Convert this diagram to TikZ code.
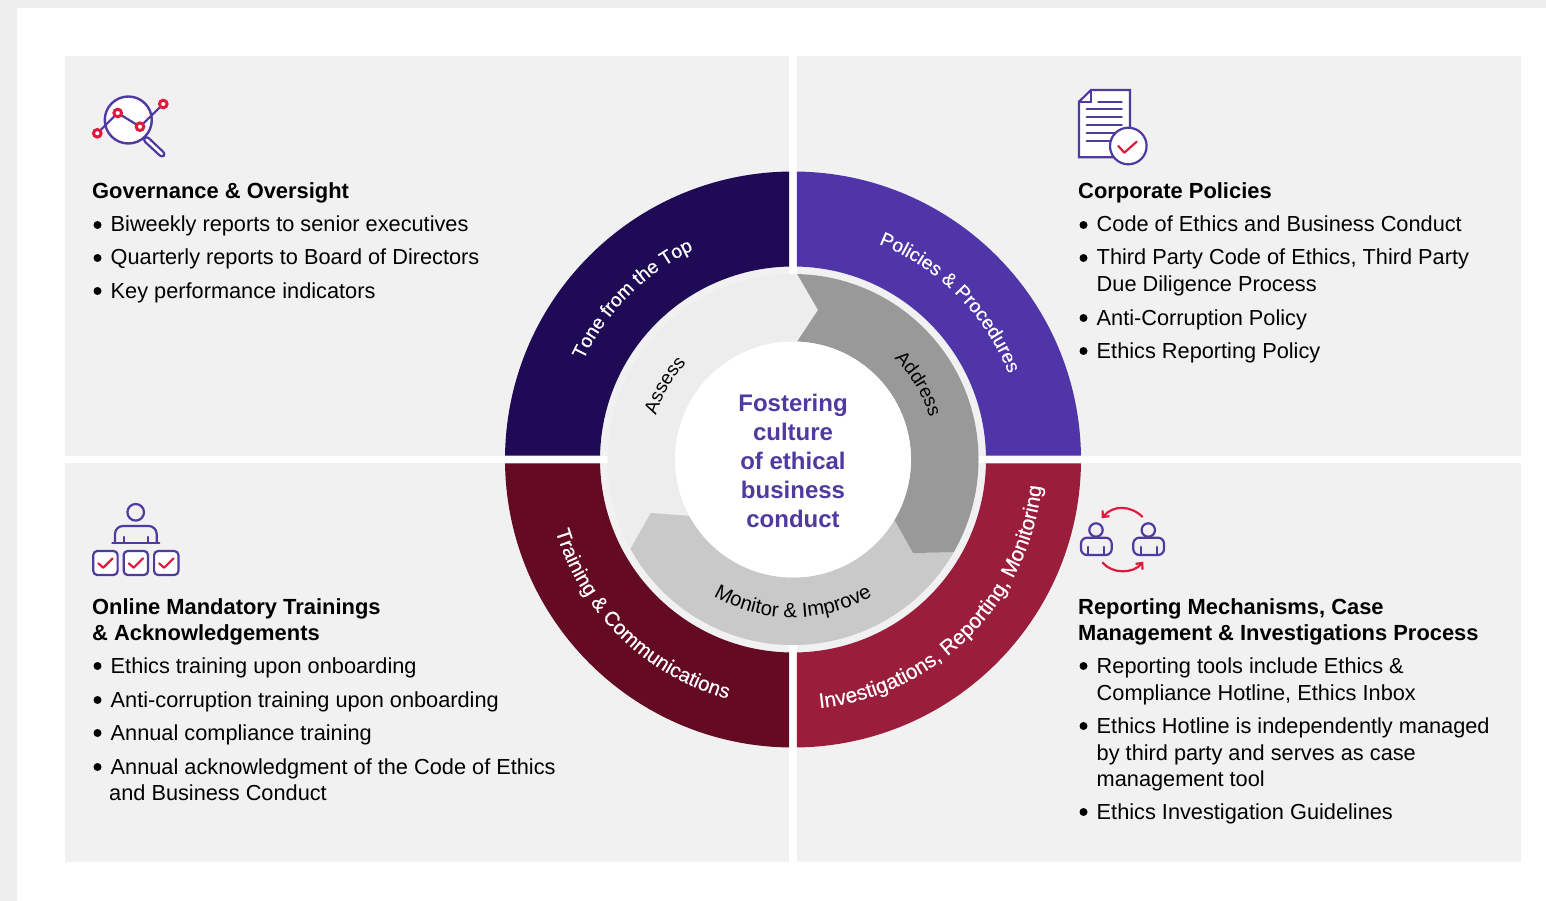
\documentclass[tikz,border=0pt]{standalone}
\usepackage{fontspec}
\setmainfont{Liberation Sans}
\usetikzlibrary{arrows.meta,decorations.text}

\definecolor{panelgray}{HTML}{F1F1F1}
\definecolor{edgegray}{HTML}{EDEDED}
\definecolor{tonefill}{HTML}{1F0A55}
\definecolor{policyfill}{HTML}{5035A8}
\definecolor{trainfill}{HTML}{640A22}
\definecolor{investfill}{HTML}{9B1D3C}
\definecolor{iconblue}{HTML}{4F3A9F}
\definecolor{iconred}{HTML}{E01A3C}
\definecolor{addressfill}{HTML}{999999}
\definecolor{monitorfill}{HTML}{C9C9C9}

\newcommand{\ringfont}[1]{\fontsize{#1}{#1}\selectfont\addfontfeature{FakeBold=0.35}\color{white}}
\newcommand{\coreringfont}[1]{\fontsize{#1}{#1}\selectfont\color{black}}
\newcommand{\itm}[4]{\node[dot] (#1b) at (#2+5.5,#3-7) {}; \node[bodytext] (#1) at (#2+18.5,#3) {#4};}

\begin{document}
\begin{tikzpicture}[
  x=1pt,y=-1pt,
  panel/.style={fill=panelgray},
  dot/.style={circle,fill=black,inner sep=0pt,minimum size=8pt},
  bodytext/.style={anchor=base west,inner sep=0pt,font=\fontsize{21.75}{22}\selectfont},
  headtext/.style={anchor=base west,inner sep=0pt,font=\fontsize{21.9}{22}\selectfont\bfseries},
  iconline/.style={draw=iconblue,line width=2.2pt,line cap=round,line join=round},
  iconmark/.style={draw=iconred,line width=2.2pt,line cap=round,line join=round},
  arctext/.style={decorate,decoration={text along path,text align=center,text={#1}}}
]
\useasboundingbox (0,0) rectangle (1546,901);
\fill[white] (0,0) rectangle (1546,901);
\fill[edgegray] (0,0) rectangle (1546,8);
\fill[edgegray] (0,0) rectangle (17,901);

% panels
\fill[panel] (65,56) rectangle (789,456);
\fill[panel] (797,56) rectangle (1521,456);
\fill[panel] (65,463) rectangle (789,862);
\fill[panel] (797,463) rectangle (1521,862);

% wheel, y upwards from the middle
\coordinate (hub) at (793,459.5);
\begin{scope}[shift={(hub)},y=1pt]
\foreach \a/\c in {0/policyfill,90/tonefill,180/trainfill,270/investfill}
  \fill[\c] (\a+.76:288) arc[start angle=\a+.76,end angle=\a+89.24,radius=288]
    -- (\a+88.87:193) arc[start angle=\a+88.87,end angle=\a+1.13,radius=193] -- cycle;
\fill[edgegray] (0,0) circle (185.5);
\fill[monitorfill] (-30:185.5) arc[start angle=-30,end angle=-151.2,radius=185.5]
  -- (-142.3,-53.5) -- (208.5:118) arc[start angle=208.5,end angle=329.3,radius=118]
  -- (120,-93.5) -- cycle;
\fill[addressfill] (88.7:185.5) arc[start angle=88.7,end angle=-30,radius=185.5]
  -- (120,-93.5) -- (-30.7:118) arc[start angle=-30.7,end angle=88,radius=118]
  -- (25,149.5) -- cycle;
\fill[white] (0,0) circle (118);

% labels round the wheel
\path[arctext={|\ringfont{19.3}|Tone from the Top}] (165:232) arc[start angle=165,end angle=105,radius=232];
\path[arctext={|\ringfont{19.3}|Policies {\&} Procedures}] (80:232) arc[start angle=80,end angle=10,radius=232];
\path[arctext={|\ringfont{20.4}|Training {\&} Communications}] (185.75:248) arc[start angle=185.75,end angle=265.75,radius=248];
\path[arctext={|\ringfont{20.9}|Investigations, Reporting, Monitoring}] (-100:250) arc[start angle=-100,end angle=10,radius=250];
\path[arctext={|\coreringfont{19}|Assess}] (175:144) arc[start angle=175,end angle=125,radius=144];
\path[arctext={|\coreringfont{19}|Address}] (56:143) arc[start angle=56,end angle=6,radius=143];
\path[arctext={|\coreringfont{20.4}|Monitor {\&} Improve}] (230:158) arc[start angle=230,end angle=310,radius=158];
\end{scope}

\node[align=center,inner sep=0pt,text=iconblue,font=\fontsize{24}{29}\selectfont\bfseries] (core) at (793,461)
  {Fostering\\culture\\of ethical\\business\\conduct};

% top left
\node[headtext] (gov) at (92,199) {Governance \& Oversight};
\itm{g1}{92}{232}{Biweekly reports to senior executives}
\itm{g2}{92}{265}{Quarterly reports to Board of Directors}
\itm{g3}{92}{298}{Key performance indicators}

% top right
\node[headtext] (pol) at (1078,199) {Corporate Policies};
\itm{p1}{1078}{232}{Code of Ethics and Business Conduct}
\itm{p2}{1078}{265}{Third Party Code of Ethics, Third Party}
\node[bodytext] (p2a) at (1096.5,291) {Due Diligence Process};
\itm{p3}{1078}{325}{Anti-Corruption Policy}
\itm{p4}{1078}{358}{Ethics Reporting Policy}

% bottom left
\node[headtext] (trn) at (92,614) {Online Mandatory Trainings};
\node[headtext] (trna) at (92,640) {\& Acknowledgements};
\itm{t1}{92}{673}{Ethics training upon onboarding}
\itm{t2}{92}{707}{Anti-corruption training upon onboarding}
\itm{t3}{92}{740}{Annual compliance training}
\itm{t4}{92}{774}{Annual acknowledgment of the Code of Ethics}
\node[bodytext] (t4a) at (109,800) {and Business Conduct};

% bottom right
\node[headtext] (rep) at (1078,614) {Reporting Mechanisms, Case};
\node[headtext] (repa) at (1078,640) {Management \& Investigations Process};
\itm{r1}{1078}{673}{Reporting tools include Ethics \&}
\node[bodytext] (r1a) at (1096.5,700) {Compliance Hotline, Ethics Inbox};
\itm{r2}{1078}{733}{Ethics Hotline is independently managed}
\node[bodytext] (r2a) at (1096.5,760) {by third party and serves as case};
\node[bodytext] (r2b) at (1096.5,786) {management tool};
\itm{r3}{1078}{819}{Ethics Investigation Guidelines}

% magnifier
\draw[iconline,fill=white,line width=2.4pt] (128.3,120) circle (23.5);
\draw[iconline,fill=white,rounded corners=3pt] (146.5,136) -- (165.5,154) -- (162,157.5) -- (143,140) -- cycle;
\draw[iconline] (97.3,133.3) -- (117.7,113) -- (140,126.7) -- (163.3,104);
\foreach \p in {(97.3,133.3),(117.7,113),(140,126.7),(163.3,104)}
  \draw[iconred,fill=white,line width=3pt] \p circle (3.8);

% document
\draw[iconline,fill=white,line join=miter] (1091,90) -- (1130,90) -- (1130,157.3) -- (1079,157.3) -- (1079,101.7) -- cycle;
\draw[iconline,line join=miter] (1091,90) -- (1091,101.7) -- (1079,101.7);
\draw[iconline] (1098.3,101.7) -- (1121.7,101.7);
\foreach \y in {109.3,117.3,125.3,133.3}
  \draw[iconline] (1086.7,\y) -- (1121.7,\y);
\draw[iconline] (1086.7,141) -- (1112,141);
\draw[iconline,fill=white] (1128.3,146) circle (18.3);
\draw[iconmark] (1118.3,146) -- (1124.3,152.7) -- (1136.7,141.7);

% trainer with boxes
\draw[iconline] (135.7,512.3) circle (8.3);
\draw[iconline,rounded corners=8pt] (115,543) -- (115,526) -- (156.7,526) -- (156.7,543);
\draw[iconline] (112.3,543.3) -- (159.3,543.3);
\draw[iconline] (124,537) -- (124,543) (147.7,537) -- (147.7,543);
\foreach \x in {0,30.4,60.8} {
  \draw[iconline,fill=white,rounded corners=4pt] (93.3+\x,551) rectangle (117.6+\x,575);
  \draw[iconmark] (98.3+\x,563.3) -- (103.3+\x,567.7) -- (112.7+\x,558.3);
}

% two people and arrows
\foreach \x in {0,52.3} {
  \draw[iconline] (1096+\x,530) circle (6.7);
  \draw[iconline,rounded corners=6pt] (1081+\x,555) -- (1081+\x,537.7) -- (1111.7+\x,537.7) -- (1111.7+\x,555) -- cycle;
  \draw[iconline] (1088.3+\x,547) -- (1088.3+\x,555) (1104.3+\x,547) -- (1104.3+\x,555);
}
\draw[iconmark,-{Straight Barb[length=5pt,width=9pt]}] (1142.3,516.7) .. controls (1130,505) and (1113,505) .. (1101.7,518.3);
\draw[iconmark,-{Straight Barb[length=5pt,width=9pt]}] (1102.7,562.7) .. controls (1112,574) and (1133,574) .. (1143.3,561.7);
\end{tikzpicture}
\end{document}
